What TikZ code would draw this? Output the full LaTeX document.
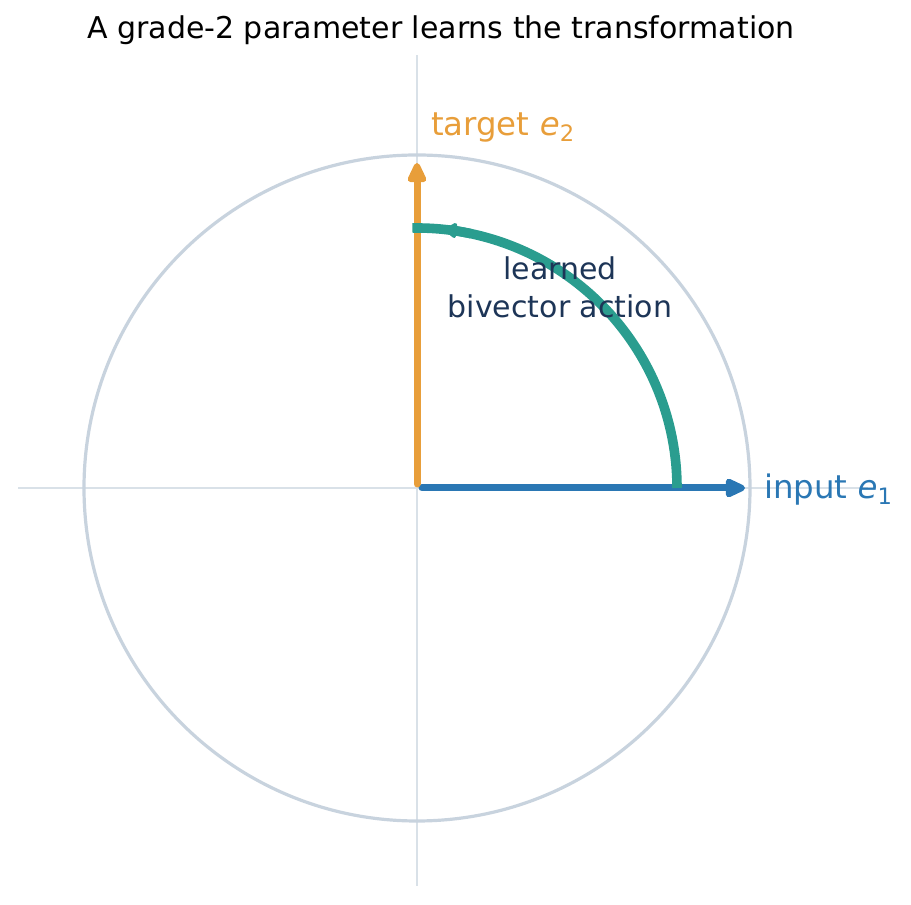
\documentclass[tikz,border=0pt]{standalone}
\usepackage{fontspec}
\setmainfont{DejaVu Sans}
\usetikzlibrary{arrows.meta}

\definecolor{axisgrey}{HTML}{D9E1E8}
\definecolor{ringgrey}{HTML}{C8D3DE}
\definecolor{inblue}{HTML}{2A77B4}
\definecolor{tgorange}{HTML}{E89E3A}
\definecolor{bvteal}{HTML}{2A9D8F}
\definecolor{navy}{HTML}{1D3557}

\newcommand{\lowidx}[1]{\raisebox{-0.3ex}{\fontsize{11.3}{12}\selectfont #1}}

\begin{document}
\begin{tikzpicture}[x=0.5pt,y=0.5pt,
  axis/.style={axisgrey,line width=1.1pt},
  ring/.style={ringgrey,line width=1.6pt},
  vec/.style={line width=3.5pt,line cap=round,-{Triangle[length=12pt,width=10pt,round]}},
  lbl/.style={font=\fontsize{16.2}{19}\selectfont,anchor=west}]
 %\draw[help lines] (0,0) grid[step=100] (911,905);
 \useasboundingbox (0,0) rectangle (911,905);

 \coordinate (O)  at (417,417);
 \coordinate (xl) at (18,417);
 \coordinate (xr) at (868,417);
 \coordinate (yb) at (417,19);
 \coordinate (yt) at (417,850);
 \coordinate (s1) at (422,417);
 \coordinate (e1) at (745,417);
 \coordinate (s2) at (417,421);
 \coordinate (e2) at (417,742);

 \draw[axis] (xl) -- (xr);
 \draw[axis] (yb) -- (yt);
 \draw[ring] (O) circle[radius=333];

 \draw[vec,inblue]   (s1) -- (e1);
 \draw[vec,tgorange] (s2) -- (e2);

 % rotation arc
 \draw[bvteal,line width=4.8pt] (O) ++(0:260) arc[start angle=0,end angle=91,radius=260];
 \draw[bvteal,line width=4.8pt,-{Triangle[length=7pt,width=8.5pt,round]}]
   (O) ++(78:260) arc[start angle=78,end angle=84,radius=260];

 \node[lbl,text=inblue]   (in) at (757,415) {input \textit{e}\lowidx{1}};
 \node[lbl,text=tgorange] (tg) at (424,777) {target \textit{e}\lowidx{2}};
 \node[navy,align=center,font=\fontsize{15}{19}\selectfont] (bv) at (560,618)
   {learned\\bivector action};
 \node[font=\fontsize{15}{18}\selectfont] (title) at (441,875)
   {A grade-2 parameter learns the transformation};
\end{tikzpicture}
\end{document}
